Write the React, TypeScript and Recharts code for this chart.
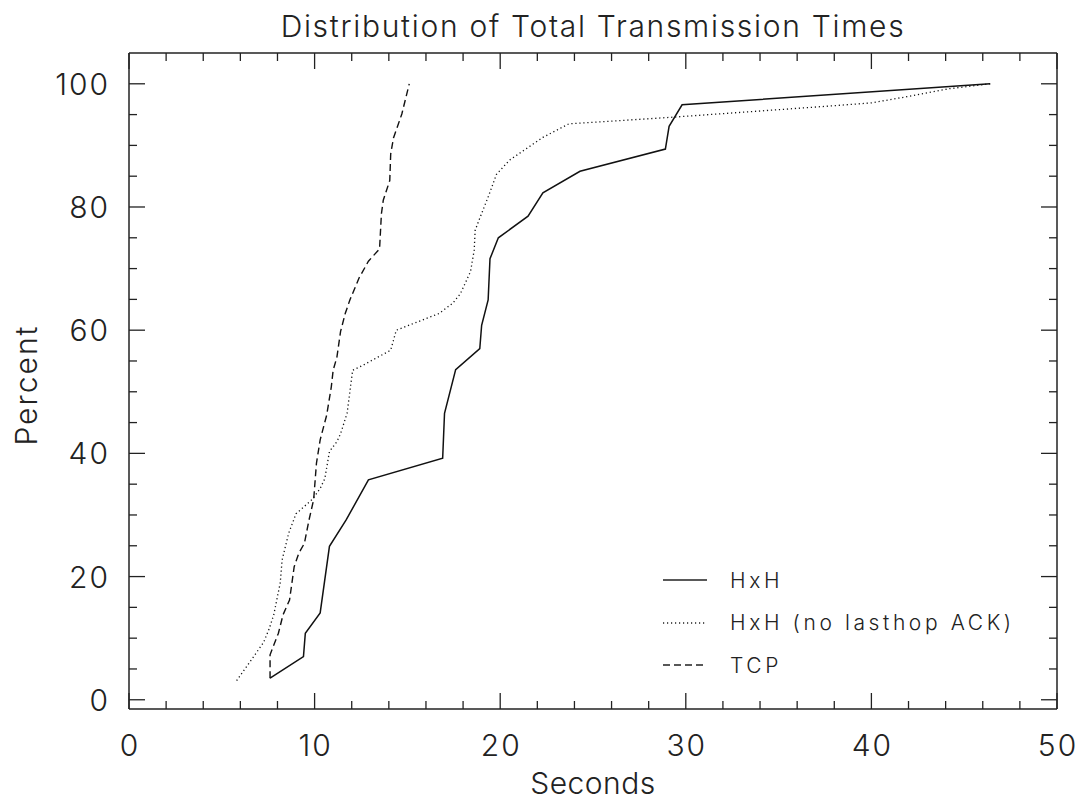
import React from 'react'
import { LineChart, Line, XAxis, YAxis, Legend } from 'recharts'

// Seconds vs cumulative percent
const hxhSeconds = [7.6, 9.4, 9.5, 10.3, 10.8, 11.7, 12.9, 16.9, 17.0, 17.6, 18.9, 19.0, 19.35, 19.45, 19.9, 21.5, 22.3, 24.3, 28.9, 29.1, 29.8, 46.4]
const hxhPercent = [3.5, 7.0, 10.8, 14.1, 24.9, 29.2, 35.7, 39.2, 46.5, 53.6, 57.0, 60.8, 64.9, 71.6, 75.0, 78.5, 82.3, 85.8, 89.4, 93.1, 96.6, 100]

const noAckSeconds = [5.8, 7.25, 7.55, 7.8, 8.15, 8.25, 8.6, 9.0, 9.9, 10.3, 10.55, 10.8, 11.2, 11.4, 11.75, 12.05, 12.6, 14.1, 14.4, 16.7, 17.45, 17.85, 18.4, 18.6, 18.65, 18.85, 19.4, 19.8, 20.5, 22.3, 23.7, 29.4, 37.8, 40.0, 41.9, 44.2, 46.4]
const noAckPercent = [3.1, 9.3, 11.5, 13.8, 19.0, 22.7, 27.0, 30.2, 32.6, 34.3, 35.9, 40.3, 41.9, 43.2, 46.5, 53.5, 54.3, 56.75, 60.0, 62.7, 64.4, 65.9, 69.5, 73.0, 76.2, 77.8, 82.0, 85.3, 87.6, 91.3, 93.5, 94.6, 96.4, 96.9, 97.9, 99.2, 100]

const tcpSeconds = [7.6, 7.6, 8.05, 8.3, 8.65, 8.9, 9.15, 9.45, 9.7, 9.95, 10.1, 10.3, 10.65, 10.9, 11.0, 11.2, 11.4, 11.65, 11.9, 12.4, 12.9, 13.5, 13.6, 13.7, 14.05, 14.1, 14.25, 14.7, 15.1]
const tcpPercent = [3.5, 7.3, 10.8, 13.8, 16.2, 21.6, 23.8, 25.4, 29.2, 32.5, 38.4, 42.2, 46.2, 50.8, 53.5, 55.6, 59.8, 62.7, 64.9, 68.5, 71.2, 73.2, 78.9, 81.1, 84.3, 88.6, 91.2, 95.1, 100]

const xTicks = [0, 2, 4, 6, 8, 10, 12, 14, 16, 18, 20, 22, 24, 26, 28, 30, 32, 34, 36, 38, 40, 42, 44, 46, 48, 50]
const yTicks = [0, 5, 10, 15, 20, 25, 30, 35, 40, 45, 50, 55, 60, 65, 70, 75, 80, 85, 90, 95, 100]

const toPoints = (xs: number[], ys: number[]) => xs.map((x, i) => ({ x, y: ys[i] }))

const hxh = toPoints(hxhSeconds, hxhPercent)
const noAck = toPoints(noAckSeconds, noAckPercent)
const tcp = toPoints(tcpSeconds, tcpPercent)

const INK = '#222'
const FONT = 'Inter, "DejaVu Sans", sans-serif'

const series = [
  { name: 'HxH', data: hxh, dash: undefined as string | undefined, width: 1.5 },
  { name: 'HxH (no lasthop ACK)', data: noAck, dash: '1.2 2.8', width: 1.3 },
  { name: 'TCP', data: tcp, dash: '7 4', width: 1.4 },
]

const labelStyle = { fill: INK, fontSize: 30, fontWeight: 300, fontFamily: FONT, letterSpacing: 2 }

function BottomTick({ x, y, payload }: any) {
  const major = payload.value % 10 === 0
  return (
    <g>
      <line x1={x} x2={x} y1={y} y2={y - (major ? 16 : 8)} stroke={INK} strokeWidth={1.3} />
      {major && (
        <text x={x + 1} y={y + 47} textAnchor="middle" style={labelStyle}>
          {payload.value}
        </text>
      )}
    </g>
  )
}

function TopTick({ x, y, payload }: any) {
  const major = payload.value % 10 === 0
  return <line x1={x} x2={x} y1={y} y2={y + (major ? 16 : 8)} stroke={INK} strokeWidth={1.3} />
}

function LeftTick({ x, y, payload }: any) {
  const major = payload.value % 20 === 0
  return (
    <g>
      <line x1={x} x2={x + (major ? 16 : 8)} y1={y} y2={y} stroke={INK} strokeWidth={1.3} />
      {major && (
        <text x={x - 19} y={y + 11} textAnchor="end" style={labelStyle}>
          {payload.value}
        </text>
      )}
    </g>
  )
}

function RightTick({ x, y, payload }: any) {
  const major = payload.value % 20 === 0
  return <line x1={x} x2={x - (major ? 16 : 8)} y1={y} y2={y} stroke={INK} strokeWidth={1.3} />
}

function LegendBox() {
  return (
    <div style={{ fontFamily: FONT, fontWeight: 300, fontSize: 21, letterSpacing: 3.6, color: INK }}>
      {series.map((s) => (
        <div key={s.name} style={{ display: 'flex', alignItems: 'center', height: 42.5 }}>
          <svg width={44} height={6} style={{ marginRight: 23 }}>
            <line x1={0} x2={44} y1={3} y2={3} stroke={INK} strokeWidth={s.width} strokeDasharray={s.dash} />
          </svg>
          <span style={{ whiteSpace: 'nowrap' }}>{s.name}</span>
        </div>
      ))}
    </div>
  )
}

const titleText = { fontFamily: FONT, fontWeight: 300, color: INK }

export default function App() {
  return (
    <div style={{ position: 'relative', width: 1081, height: 800, background: '#fff' }}>
      <style>{'body { margin: 0; } .recharts-surface { overflow: visible; }'}</style>
      <div
        style={{
          ...titleText,
          position: 'absolute',
          left: 129,
          width: 928,
          top: 8,
          textAlign: 'center',
          fontSize: 30,
          letterSpacing: 1.7,
          lineHeight: '36px',
        }}
      >
        Distribution of Total Transmission Times
      </div>
      <div
        style={{
          ...titleText,
          position: 'absolute',
          left: 129,
          width: 928,
          top: 767,
          textAlign: 'center',
          fontSize: 30,
          letterSpacing: 0.5,
          lineHeight: '32px',
        }}
      >
        Seconds
      </div>
      <div
        style={{
          ...titleText,
          position: 'absolute',
          left: 26,
          top: 385,
          transform: 'translate(-50%, -50%) rotate(-90deg)',
          fontSize: 30,
          letterSpacing: 2,
          whiteSpace: 'nowrap',
        }}
      >
        Percent
      </div>
      <LineChart width={1081} height={800} margin={{ top: 52, right: 23, bottom: 0, left: 0 }}>
        <XAxis
          xAxisId="bottom"
          type="number"
          dataKey="x"
          domain={[0, 50]}
          ticks={xTicks}
          interval={0}
          height={91}
          tickSize={0}
          tickMargin={0}
          tick={<BottomTick />}
          axisLine={{ stroke: INK, strokeWidth: 1.5 }}
          allowDataOverflow
        />
        <XAxis
          xAxisId="top"
          orientation="top"
          type="number"
          dataKey="x"
          domain={[0, 50]}
          ticks={xTicks}
          interval={0}
          height={1}
          tickSize={0}
          tickMargin={0}
          tick={<TopTick />}
          axisLine={{ stroke: INK, strokeWidth: 1.5 }}
          allowDataOverflow
        />
        <YAxis
          yAxisId="left"
          type="number"
          domain={[-1.5, 105]}
          ticks={yTicks}
          interval={0}
          width={129}
          tickSize={0}
          tickMargin={0}
          tick={<LeftTick />}
          axisLine={{ stroke: INK, strokeWidth: 1.5 }}
          allowDataOverflow
        />
        <YAxis
          yAxisId="right"
          orientation="right"
          type="number"
          domain={[-1.5, 105]}
          ticks={yTicks}
          interval={0}
          width={1}
          tickSize={0}
          tickMargin={0}
          tick={<RightTick />}
          axisLine={{ stroke: INK, strokeWidth: 1.5 }}
          allowDataOverflow
        />
        {series.map((s) => (
          <Line
            key={s.name}
            name={s.name}
            xAxisId="bottom"
            yAxisId="left"
            data={s.data}
            dataKey="y"
            type="linear"
            stroke="#111"
            strokeWidth={s.width}
            strokeDasharray={s.dash}
            dot={false}
            activeDot={false}
            isAnimationActive={false}
          />
        ))}
        {/* invisible copy so the mirrored top/right axes are drawn */}
        <Line
          xAxisId="top"
          yAxisId="right"
          data={hxh}
          dataKey="y"
          stroke="none"
          dot={false}
          activeDot={false}
          legendType="none"
          isAnimationActive={false}
        />
        <Legend
          layout="vertical"
          align="center"
          verticalAlign="middle"
          content={<LegendBox />}
          wrapperStyle={{ left: 663, top: 559, width: 420 }}
        />
      </LineChart>
    </div>
  )
}
